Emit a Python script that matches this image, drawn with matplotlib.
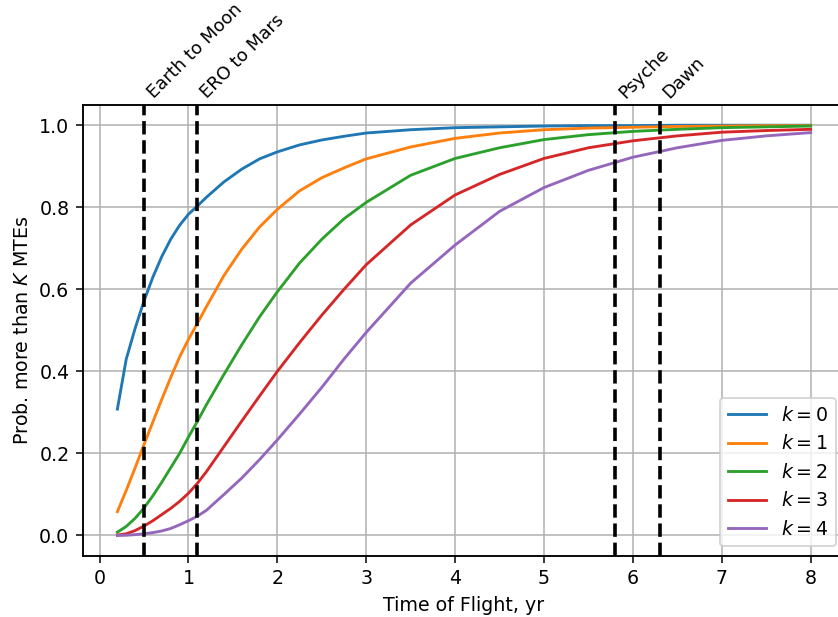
import matplotlib
matplotlib.use("Agg")
import matplotlib.pyplot as plt

tof = [0.2, 0.3, 0.4, 0.5, 0.6, 0.7, 0.8, 0.9, 1.0, 1.1, 1.2, 1.4, 1.6, 1.8, 2.0,
       2.25, 2.5, 2.75, 3.0, 3.5, 4.0, 4.5, 5.0, 5.5, 6.0, 6.5, 7.0, 7.5, 8.0]

p_k0 = [0.308, 0.43, 0.505, 0.572, 0.63, 0.68, 0.722, 0.756, 0.783, 0.803, 0.824,
        0.862, 0.893, 0.918, 0.935, 0.952, 0.964, 0.973, 0.981, 0.989, 0.994, 0.996,
        0.998, 0.999, 0.999, 1.0, 1.0, 1.0, 1.0]
p_k1 = [0.058, 0.11, 0.165, 0.222, 0.277, 0.332, 0.385, 0.435, 0.478, 0.517, 0.557,
        0.634, 0.698, 0.752, 0.795, 0.84, 0.872, 0.896, 0.918, 0.947, 0.968, 0.981,
        0.989, 0.993, 0.995, 0.997, 0.998, 0.999, 0.999]
p_k2 = [0.008, 0.022, 0.042, 0.067, 0.097, 0.13, 0.165, 0.20, 0.24, 0.278, 0.318,
        0.393, 0.465, 0.533, 0.594, 0.664, 0.722, 0.772, 0.812, 0.878, 0.919, 0.945,
        0.965, 0.977, 0.985, 0.99, 0.994, 0.996, 0.998]
p_k3 = [0.001, 0.004, 0.012, 0.023, 0.036, 0.051, 0.066, 0.083, 0.103, 0.127, 0.155,
        0.217, 0.279, 0.34, 0.40, 0.47, 0.537, 0.60, 0.66, 0.757, 0.83, 0.88,
        0.919, 0.945, 0.962, 0.974, 0.983, 0.987, 0.99]
p_k4 = [0.0, 0.0005, 0.002, 0.004, 0.007, 0.011, 0.017, 0.026, 0.036, 0.047, 0.061,
        0.10, 0.14, 0.185, 0.233, 0.296, 0.361, 0.43, 0.495, 0.615, 0.708, 0.79,
        0.848, 0.89, 0.922, 0.945, 0.963, 0.974, 0.982]

series = [p_k0, p_k1, p_k2, p_k3, p_k4]
labels = ["$k=0$", "$k=1$", "$k=2$", "$k=3$", "$k=4$"]

mission_tof = [0.5, 1.1, 5.8, 6.3]
mission_names = ["Earth to Moon", "ERO to Mars", "Psyche", "Dawn"]

DPI = 137
fig = plt.figure(figsize=(838 / DPI, 617 / DPI), dpi=DPI)
ax = fig.add_axes([0.0987, 0.0989, 0.910, 0.7314])

for vals, lab in zip(series, labels):
    ax.plot(tof, vals, label=lab)

for m in mission_tof:
    ax.axvline(m, color="k", linestyle="--", linewidth=1.9)

ax.grid(True)
ax.set_xlabel("Time of Flight, yr")
ax.set_ylabel("Prob. more than $K$ MTEs")
ax.legend(loc="lower right")

ax2 = ax.twiny()
ax2.set_xlim(ax.get_xlim())
ax2.set_xticks(mission_tof)
ax2.set_xticklabels(mission_names, rotation=45, ha="left", fontsize=9.4)
ax2.tick_params(axis="x", length=0, pad=1.5)

fig.savefig("out.png", dpi=DPI)
